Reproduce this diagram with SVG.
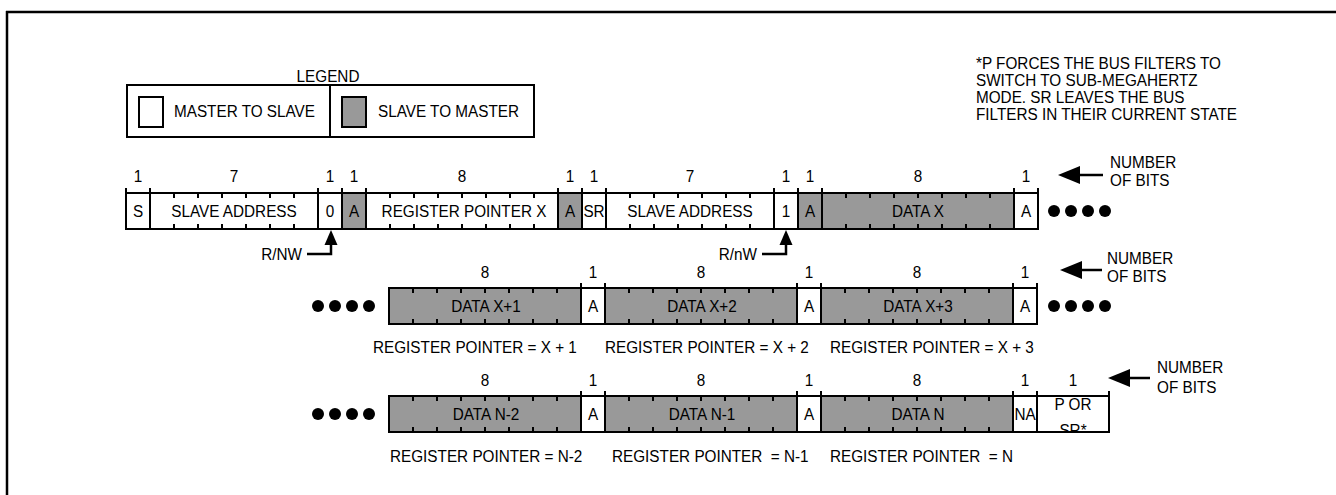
<svg xmlns="http://www.w3.org/2000/svg" width="1336" height="495" viewBox="0 0 1336 495">
<style>
.t{font-family:"Liberation Sans",Arial,sans-serif;font-size:17px;fill:#000}
.m{text-anchor:middle}
.w{fill:#fff;stroke:#000;stroke-width:2}
.g{fill:#999;stroke:#000;stroke-width:2}
.tk{fill:none;stroke:#000;stroke-width:2}
.ln{fill:none;stroke:#000;stroke-width:2.5}
.dot{fill:#000}
</style>
<defs>
<clipPath id="clipPS"><rect x="1037" y="396" width="72" height="36"/></clipPath>
</defs>
<rect x="0" y="0" width="1336" height="495" fill="#fff"/>
<g id="frame"><path class="ln" d="M6,12H1336M7,11V495"/></g>

<g id="legend">
<text class="t m" transform="translate(328 82) scale(.9 1)">LEGEND</text>
<rect x="127" y="85" width="407" height="52" fill="none" stroke="#000" stroke-width="2"/>
<line x1="330" y1="85" x2="330" y2="137" stroke="#000" stroke-width="2"/>
<rect class="w" x="139" y="97" width="24" height="30"/>
<text class="t" transform="translate(174 117) scale(.9 1)">MASTER TO SLAVE</text>
<rect class="g" x="342" y="97" width="24" height="30"/>
<text class="t" transform="translate(378 117) scale(.9 1)">SLAVE TO MASTER</text>
</g>

<g id="note">
<text class="t" transform="translate(976 69) scale(.9 1)">*P FORCES THE BUS FILTERS TO</text>
<text class="t" transform="translate(976 86) scale(.9 1)">SWITCH TO SUB-MEGAHERTZ</text>
<text class="t" transform="translate(976 103) scale(.9 1)">MODE. SR LEAVES THE BUS</text>
<text class="t" transform="translate(976 120) scale(.9 1)">FILTERS IN THEIR CURRENT STATE</text>
</g>

<!-- Row 1 -->
<g id="row1">
<g id="r1-s"><rect class="w" x="126" y="193" width="24" height="36"/><text class="t m" transform="translate(138 217) scale(.9 1)">S</text></g>
<g id="r1-sa"><rect class="w" x="150" y="193" width="168" height="36"/><path class="tk" d="M174,193v5M174,229v-5M198,193v5M198,229v-5M222,193v5M222,229v-5M246,193v5M246,229v-5M270,193v5M270,229v-5M294,193v5M294,229v-5"/><text class="t m" transform="translate(234 217) scale(.9 1)">SLAVE ADDRESS</text></g>
<g id="r1-rw0"><rect class="w" x="318" y="193" width="24" height="36"/><text class="t m" transform="translate(330 217) scale(.9 1)">0</text></g>
<g id="r1-a1"><rect class="g" x="342" y="193" width="24" height="36"/><text class="t m" transform="translate(354 217) scale(.9 1)">A</text></g>
<g id="r1-rpx"><rect class="w" x="366" y="193" width="192" height="36"/><path class="tk" d="M390,193v5M390,229v-5M414,193v5M414,229v-5M438,193v5M438,229v-5M462,193v5M462,229v-5M486,193v5M486,229v-5M510,193v5M510,229v-5M534,193v5M534,229v-5"/><text class="t m" transform="translate(464 217) scale(.9 1)">REGISTER POINTER X</text></g>
<g id="r1-a2"><rect class="g" x="558" y="193" width="24" height="36"/><text class="t m" transform="translate(570 217) scale(.9 1)">A</text></g>
<g id="r1-sr"><rect class="w" x="582" y="193" width="24" height="36"/><text class="t m" transform="translate(594 217) scale(.9 1)">SR</text></g>
<g id="r1-sa2"><rect class="w" x="606" y="193" width="168" height="36"/><path class="tk" d="M630,193v5M630,229v-5M654,193v5M654,229v-5M678,193v5M678,229v-5M702,193v5M702,229v-5M726,193v5M726,229v-5M750,193v5M750,229v-5"/><text class="t m" transform="translate(690 217) scale(.9 1)">SLAVE ADDRESS</text></g>
<g id="r1-rw1"><rect class="w" x="774" y="193" width="24" height="36"/><text class="t m" transform="translate(786 217) scale(.9 1)">1</text></g>
<g id="r1-a3"><rect class="g" x="798" y="193" width="24" height="36"/><text class="t m" transform="translate(810 217) scale(.9 1)">A</text></g>
<g id="r1-dx"><rect class="g" x="822" y="193" width="192" height="36"/><path class="tk" d="M846,193v5M846,229v-5M870,193v5M870,229v-5M894,193v5M894,229v-5M918,193v5M918,229v-5M942,193v5M942,229v-5M966,193v5M966,229v-5M990,193v5M990,229v-5"/><text class="t m" transform="translate(918 217) scale(.9 1)">DATA X</text></g>
<g id="r1-a4"><rect class="w" x="1014" y="193" width="24" height="36"/><text class="t m" transform="translate(1026 217) scale(.9 1)">A</text></g>
<path class="tk" d="M126,188v5M150,188v5M318,188v5M342,188v5M366,188v5M558,188v5M582,188v5M606,188v5M774,188v5M798,188v5M822,188v5M1014,188v5M1038,188v5"/>
<g id="r1-bits">
<text class="t m" transform="translate(138 182) scale(.9 1)">1</text>
<text class="t m" transform="translate(234 182) scale(.9 1)">7</text>
<text class="t m" transform="translate(330 182) scale(.9 1)">1</text>
<text class="t m" transform="translate(354 182) scale(.9 1)">1</text>
<text class="t m" transform="translate(462 182) scale(.9 1)">8</text>
<text class="t m" transform="translate(570 182) scale(.9 1)">1</text>
<text class="t m" transform="translate(594 182) scale(.9 1)">1</text>
<text class="t m" transform="translate(690 182) scale(.9 1)">7</text>
<text class="t m" transform="translate(786 182) scale(.9 1)">1</text>
<text class="t m" transform="translate(810 182) scale(.9 1)">1</text>
<text class="t m" transform="translate(918 182) scale(.9 1)">8</text>
<text class="t m" transform="translate(1026 182) scale(.9 1)">1</text>
</g>
<g id="r1-dots"><circle class="dot" cx="1054" cy="211" r="6"/><circle class="dot" cx="1071" cy="211" r="6"/><circle class="dot" cx="1088" cy="211" r="6"/><circle class="dot" cx="1105" cy="211" r="6"/></g>
<text class="t" transform="translate(1110 168) scale(.9 1)">NUMBER</text>
<text class="t" transform="translate(1110 186) scale(.9 1)">OF BITS</text>
<text class="t" transform="translate(302 260) scale(.9 1)" text-anchor="end">R/NW</text>
<text class="t" transform="translate(757 260) scale(.9 1)" text-anchor="end">R/nW</text>
</g>

<!-- Row 2 -->
<g id="row2">
<g id="r2-dx1"><rect class="g" x="389" y="288" width="192" height="36"/><path class="tk" d="M413,288v5M413,324v-5M437,288v5M437,324v-5M461,288v5M461,324v-5M485,288v5M485,324v-5M509,288v5M509,324v-5M533,288v5M533,324v-5M557,288v5M557,324v-5"/><text class="t m" transform="translate(486 312) scale(.9 1)">DATA X+1</text></g>
<g id="r2-a1"><rect class="w" x="581" y="288" width="24" height="36"/><text class="t m" transform="translate(593 312) scale(.9 1)">A</text></g>
<g id="r2-dx2"><rect class="g" x="605" y="288" width="192" height="36"/><path class="tk" d="M629,288v5M629,324v-5M653,288v5M653,324v-5M677,288v5M677,324v-5M701,288v5M701,324v-5M725,288v5M725,324v-5M749,288v5M749,324v-5M773,288v5M773,324v-5"/><text class="t m" transform="translate(702 312) scale(.9 1)">DATA X+2</text></g>
<g id="r2-a2"><rect class="w" x="797" y="288" width="24" height="36"/><text class="t m" transform="translate(809 312) scale(.9 1)">A</text></g>
<g id="r2-dx3"><rect class="g" x="821" y="288" width="192" height="36"/><path class="tk" d="M845,288v5M845,324v-5M869,288v5M869,324v-5M893,288v5M893,324v-5M917,288v5M917,324v-5M941,288v5M941,324v-5M965,288v5M965,324v-5M989,288v5M989,324v-5"/><text class="t m" transform="translate(918 312) scale(.9 1)">DATA X+3</text></g>
<g id="r2-a3"><rect class="w" x="1013" y="288" width="24" height="36"/><text class="t m" transform="translate(1025 312) scale(.9 1)">A</text></g>
<path class="tk" d="M581,283v5M605,283v5M797,283v5M821,283v5M1013,283v5M1037,283v5"/>
<g id="r2-bits">
<text class="t m" transform="translate(485 278) scale(.9 1)">8</text>
<text class="t m" transform="translate(593 278) scale(.9 1)">1</text>
<text class="t m" transform="translate(701 278) scale(.9 1)">8</text>
<text class="t m" transform="translate(809 278) scale(.9 1)">1</text>
<text class="t m" transform="translate(917 278) scale(.9 1)">8</text>
<text class="t m" transform="translate(1025 278) scale(.9 1)">1</text>
</g>
<g id="r2-dots-l"><circle class="dot" cx="318" cy="306" r="6"/><circle class="dot" cx="335" cy="306" r="6"/><circle class="dot" cx="352" cy="306" r="6"/><circle class="dot" cx="369" cy="306" r="6"/></g>
<g id="r2-dots-r"><circle class="dot" cx="1054" cy="306" r="6"/><circle class="dot" cx="1071" cy="306" r="6"/><circle class="dot" cx="1088" cy="306" r="6"/><circle class="dot" cx="1105" cy="306" r="6"/></g>
<text class="t" transform="translate(1107 264) scale(.9 1)">NUMBER</text>
<text class="t" transform="translate(1107 282) scale(.9 1)">OF BITS</text>
<text class="t" transform="translate(373 353) scale(.9 1)">REGISTER POINTER = X + 1</text>
<text class="t" transform="translate(605 353) scale(.9 1)">REGISTER POINTER = X + 2</text>
<text class="t" transform="translate(830 353) scale(.9 1)">REGISTER POINTER = X + 3</text>
</g>

<!-- Row 3 -->
<g id="row3">
<g id="r3-dn2"><rect class="g" x="389" y="396" width="192" height="36"/><path class="tk" d="M413,396v5M413,432v-5M437,396v5M437,432v-5M461,396v5M461,432v-5M485,396v5M485,432v-5M509,396v5M509,432v-5M533,396v5M533,432v-5M557,396v5M557,432v-5"/><text class="t m" transform="translate(486 420) scale(.9 1)">DATA N-2</text></g>
<g id="r3-a1"><rect class="w" x="581" y="396" width="24" height="36"/><text class="t m" transform="translate(593 420) scale(.9 1)">A</text></g>
<g id="r3-dn1"><rect class="g" x="605" y="396" width="192" height="36"/><path class="tk" d="M629,396v5M629,432v-5M653,396v5M653,432v-5M677,396v5M677,432v-5M701,396v5M701,432v-5M725,396v5M725,432v-5M749,396v5M749,432v-5M773,396v5M773,432v-5"/><text class="t m" transform="translate(702 420) scale(.9 1)">DATA N-1</text></g>
<g id="r3-a2"><rect class="w" x="797" y="396" width="24" height="36"/><text class="t m" transform="translate(809 420) scale(.9 1)">A</text></g>
<g id="r3-dn"><rect class="g" x="821" y="396" width="192" height="36"/><path class="tk" d="M845,396v5M845,432v-5M869,396v5M869,432v-5M893,396v5M893,432v-5M917,396v5M917,432v-5M941,396v5M941,432v-5M965,396v5M965,432v-5M989,396v5M989,432v-5"/><text class="t m" transform="translate(918 420) scale(.9 1)">DATA N</text></g>
<g id="r3-na"><rect class="w" x="1013" y="396" width="24" height="36"/><text class="t m" transform="translate(1025 420) scale(.9 1)">NA</text></g>
<g id="r3-psr"><rect class="w" x="1037" y="396" width="72" height="36"/><g clip-path="url(#clipPS)"><text class="t m" transform="translate(1073 410) scale(.9 1)">P OR</text><text class="t m" transform="translate(1073 436) scale(.9 1)">SR*</text></g><rect x="1037" y="396" width="72" height="36" fill="none" stroke="#000" stroke-width="2"/></g>
<path class="tk" d="M581,391v5M605,391v5M797,391v5M821,391v5M1013,391v5M1037,391v5M1109,391v5"/>
<g id="r3-bits">
<text class="t m" transform="translate(485 386) scale(.9 1)">8</text>
<text class="t m" transform="translate(593 386) scale(.9 1)">1</text>
<text class="t m" transform="translate(701 386) scale(.9 1)">8</text>
<text class="t m" transform="translate(809 386) scale(.9 1)">1</text>
<text class="t m" transform="translate(917 386) scale(.9 1)">8</text>
<text class="t m" transform="translate(1025 386) scale(.9 1)">1</text>
<text class="t m" transform="translate(1073 386) scale(.9 1)">1</text>
</g>
<g id="r3-dots-l"><circle class="dot" cx="318" cy="414" r="6"/><circle class="dot" cx="335" cy="414" r="6"/><circle class="dot" cx="352" cy="414" r="6"/><circle class="dot" cx="369" cy="414" r="6"/></g>
<text class="t" transform="translate(1157 373) scale(.9 1)">NUMBER</text>
<text class="t" transform="translate(1157 393) scale(.9 1)">OF BITS</text>
<text class="t" xml:space="preserve" transform="translate(390 462) scale(.9 1)">REGISTER POINTER = N-2</text>
<text class="t" xml:space="preserve" transform="translate(612 462) scale(.9 1)">REGISTER POINTER  = N-1</text>
<text class="t" xml:space="preserve" transform="translate(830 462) scale(.9 1)">REGISTER POINTER  = N</text>
</g>

<g id="connectors">
<path class="ln" d="M307,254H331V243"/>
<polygon points="331,230 324.5,245 337.5,245"/>
<path class="ln" d="M762,254H786V243"/>
<polygon points="786,230 779.5,245 792.5,245"/>
<path class="ln" d="M1080,175H1103"/>
<polygon points="1058,175 1080,166 1080,184"/>
<path class="ln" d="M1081,270H1102"/>
<polygon points="1060,270 1082,261 1082,279"/>
<path class="ln" d="M1129,378H1150"/>
<polygon points="1108,378 1130,369 1130,387"/>
</g>
</svg>
